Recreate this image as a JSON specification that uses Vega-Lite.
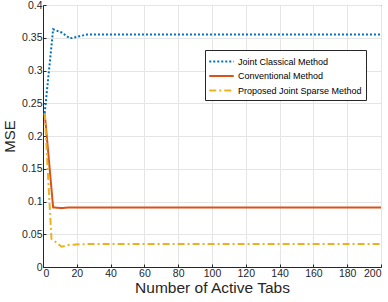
{
  "$schema": "https://vega.github.io/schema/vega-lite/v6.json",
  "autosize": "none",
  "width": 338,
  "height": 262,
  "padding": {"left": 43, "top": 5, "right": 7, "bottom": 35},
  "config": {
    "font": "Liberation Sans",
    "view": {"stroke": "#262626", "strokeWidth": 1},
    "axis": {
      "domainColor": "#262626",
      "gridColor": "#e5e5e5",
      "gridOpacity": 1,
      "tickColor": "#262626",
      "labelColor": "#262626",
      "titleColor": "#262626",
      "labelFontSize": 10.5,
      "titleFontSize": 15.5,
      "titleFontWeight": "normal"
    }
  },
  "data": {
    "values": [
      {"x": 1, "y": 0.235, "s": "Joint Classical Method"},
      {"x": 6, "y": 0.363, "s": "Joint Classical Method"},
      {"x": 11, "y": 0.358, "s": "Joint Classical Method"},
      {"x": 16, "y": 0.349, "s": "Joint Classical Method"},
      {"x": 21, "y": 0.352, "s": "Joint Classical Method"},
      {"x": 26, "y": 0.355, "s": "Joint Classical Method"},
      {"x": 50, "y": 0.355, "s": "Joint Classical Method"},
      {"x": 100, "y": 0.355, "s": "Joint Classical Method"},
      {"x": 150, "y": 0.355, "s": "Joint Classical Method"},
      {"x": 200, "y": 0.355, "s": "Joint Classical Method"},
      {"x": 1, "y": 0.235, "s": "Conventional Method"},
      {"x": 6, "y": 0.091, "s": "Conventional Method"},
      {"x": 11, "y": 0.09, "s": "Conventional Method"},
      {"x": 16, "y": 0.091, "s": "Conventional Method"},
      {"x": 26, "y": 0.091, "s": "Conventional Method"},
      {"x": 50, "y": 0.091, "s": "Conventional Method"},
      {"x": 100, "y": 0.091, "s": "Conventional Method"},
      {"x": 150, "y": 0.091, "s": "Conventional Method"},
      {"x": 200, "y": 0.091, "s": "Conventional Method"},
      {"x": 1, "y": 0.235, "s": "Proposed Joint Sparse Method"},
      {"x": 5, "y": 0.043, "s": "Proposed Joint Sparse Method"},
      {"x": 11, "y": 0.031, "s": "Proposed Joint Sparse Method"},
      {"x": 16, "y": 0.034, "s": "Proposed Joint Sparse Method"},
      {"x": 26, "y": 0.035, "s": "Proposed Joint Sparse Method"},
      {"x": 50, "y": 0.035, "s": "Proposed Joint Sparse Method"},
      {"x": 100, "y": 0.035, "s": "Proposed Joint Sparse Method"},
      {"x": 150, "y": 0.035, "s": "Proposed Joint Sparse Method"},
      {"x": 200, "y": 0.035, "s": "Proposed Joint Sparse Method"}
    ]
  },
  "mark": {"type": "line", "strokeWidth": 2},
  "encoding": {
    "x": {
      "field": "x", "type": "quantitative",
      "scale": {"domain": [0, 200], "nice": false},
      "axis": {"values": [0,20,40,60,80,100,120,140,160,180,200], "title": "Number of Active Tabs", "tickSize": -3, "labelPadding": 4, "titlePadding": 2}
    },
    "y": {
      "field": "y", "type": "quantitative",
      "scale": {"domain": [0, 0.4], "nice": false},
      "axis": {"values": [0,0.05,0.1,0.15,0.2,0.25,0.3,0.35,0.4], "format": "~g", "title": "MSE", "titleFontSize": 15, "tickSize": -3, "labelPadding": 4, "titlePadding": 4}
    },
    "color": {
      "field": "s", "type": "nominal",
      "scale": {"domain": ["Joint Classical Method", "Conventional Method", "Proposed Joint Sparse Method"], "range": ["#0072BD", "#D95319", "#EDB120"]},
      "legend": {
        "title": null, "orient": "none", "legendX": 162, "legendY": 45,
        "symbolType": "M-2,0H2", "symbolSize": 150, "symbolStrokeWidth": 2,
        "symbolOffset": 5, "labelOffset": 9,
        "labelFontSize": 9, "labelColor": "#000",
        "strokeColor": "#262626", "fillColor": "white", "padding": 4, "rowPadding": 1.5, "labelLimit": 300
      }
    },
    "strokeDash": {
      "field": "s", "type": "nominal",
      "scale": {"domain": ["Joint Classical Method", "Conventional Method", "Proposed Joint Sparse Method"], "range": [[2,2], [1,0], [7,3,2,3]]},
      "legend": null
    }
  }
}
